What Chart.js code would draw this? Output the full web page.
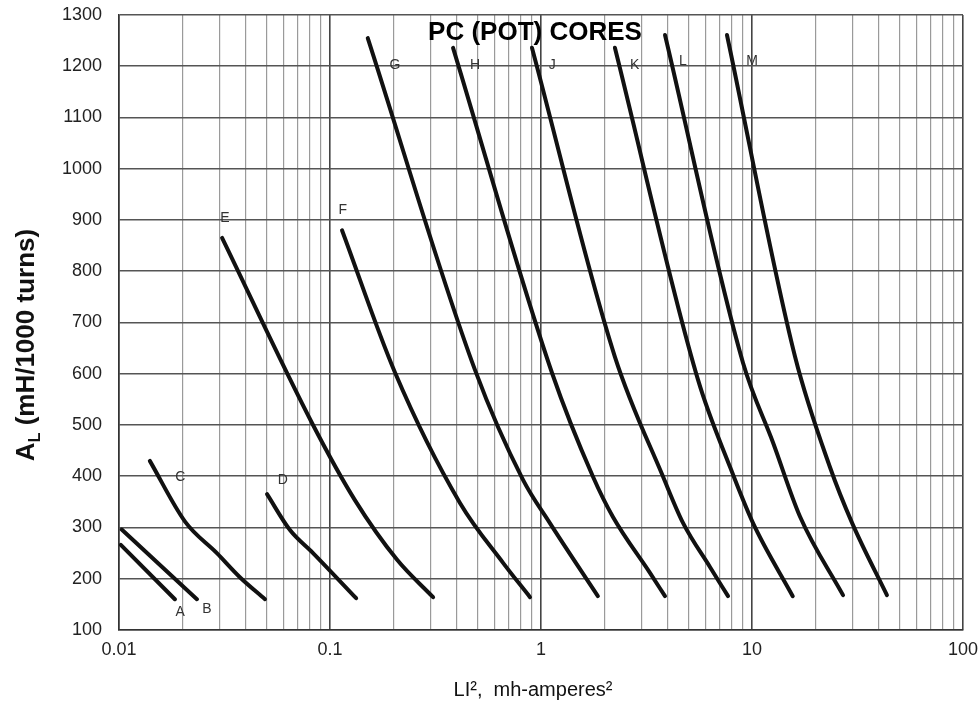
<!DOCTYPE html>
<html>
<head>
<meta charset="utf-8">
<script src="https://cdn.jsdelivr.net/npm/chart.js@4"></script>
<style>
  html, body { margin: 0; padding: 0; background: #fff; }
  #wrap { width: 980px; height: 709px; }
</style>
</head>
<body>
<div id="wrap"><canvas id="coreChart" width="980" height="709"></canvas></div>
<script>
// LI^2 (mh-amperes^2) vs A_L (mH/1000 turns), pairs
const curveA = [[0.0102, 266], [0.0184, 160]];
const curveB = [[0.0103, 296], [0.0234, 160]];
const curveC = [[0.0140, 430], [0.0206, 311], [0.0291, 250], [0.0374, 203], [0.0492, 160]];
const curveD = [[0.0503, 365], [0.0646, 295], [0.0831, 250], [0.133, 162]];
const curveE = [[0.0308, 865], [0.0831, 500], [0.131, 354], [0.208, 237], [0.308, 164]];
const curveF = [[0.114, 880], [0.203, 603], [0.413, 348], [0.661, 231], [0.887, 164]];
const curveG = [[0.151, 1255], [0.487, 607], [0.822, 393], [1.10, 309], [1.86, 166]];
const curveH = [[0.383, 1236], [1.127, 602], [1.764, 399], [2.19, 321], [3.29, 211], [3.87, 166]];
const curveJ = [[0.906, 1236], [2.24, 633], [3.79, 399], [4.71, 309], [6.32, 223], [7.70, 166]];
const curveK = [[2.24, 1236], [5.55, 588], [7.87, 418], [10.1, 309], [15.6, 166]];
const curveL = [[3.87, 1261], [9.07, 621], [12.6, 465], [16.9, 321], [27.0, 168]];
const curveM = [[7.61, 1261], [16.0, 633], [23.4, 418], [29.8, 309], [43.6, 168]];

const curves = [curveA, curveB, curveC, curveD, curveE, curveF, curveG, curveH, curveJ, curveK, curveL, curveM];

// letter tags next to the curves
const tagNames = ["A", "B", "C", "D", "E", "F", "G", "H", "J", "K", "L", "M"];
const tagX = [0.0195, 0.0261, 0.0195, 0.0598, 0.0318, 0.115, 0.203, 0.487, 1.13, 2.78, 4.71, 10.0];
const tagY = [135, 141, 399, 393, 904, 920, 1202, 1202, 1202, 1202, 1210, 1210];

// axis ticks
const xDecades = [0.01, 0.1, 1, 10, 100];
const yMin = 100;
const yMax = 1300;
const yStep = 100;

const FONT = "Arial, 'Liberation Sans', Helvetica, sans-serif";

function isDecade(v) {
  const l = Math.log10(v);
  return Math.abs(l - Math.round(l)) < 1e-6;
}

const textPlugin = {
  id: "textPlugin",
  afterDatasetsDraw(chart) {
    const { ctx, scales } = chart;
    const x = scales.x;
    const y = scales.y;
    ctx.save();
    // curve tags
    ctx.fillStyle = "#333";
    ctx.font = "14px " + FONT;
    ctx.textAlign = "center";
    ctx.textBaseline = "middle";
    tagNames.forEach((t, i) => {
      ctx.fillText(t, x.getPixelForValue(tagX[i]), y.getPixelForValue(tagY[i]));
    });
    // heading inside the plot
    ctx.fillStyle = "#000";
    ctx.font = "bold 26px " + FONT;
    ctx.fillText("PC (POT) CORES", 535, 33);
    // x axis title
    ctx.font = "20px " + FONT;
    ctx.fillStyle = "#111";
    ctx.fillText("LI\u00b2,  mh-amperes\u00b2", 533, 690);
    // y axis title with subscript
    ctx.translate(27, 345);
    ctx.rotate(-Math.PI / 2);
    const big = "bold 26px " + FONT;
    const small = "bold 16px " + FONT;
    ctx.font = big;
    const wA = ctx.measureText("A").width;
    const wRest = ctx.measureText(" (mH/1000 turns)").width;
    ctx.font = small;
    const wL = ctx.measureText("L").width;
    let sx = -(wA + wL + wRest) / 2;
    ctx.textAlign = "left";
    ctx.font = big;
    ctx.fillText("A", sx, 0);
    ctx.font = small;
    ctx.fillText("L", sx + wA, 9);
    ctx.font = big;
    ctx.fillText(" (mH/1000 turns)", sx + wA + wL, 0);
    ctx.restore();
  }
};

const ctx = document.getElementById("coreChart").getContext("2d");

const coreChart = new Chart(ctx, {
  type: "line",
  data: {
    datasets: curves.map((c, i) => ({
      label: tagNames[i],
      data: c.map(p => ({ x: p[0], y: p[1] })),
      borderColor: "#111",
      borderWidth: 4,
      borderCapStyle: "round",
      pointRadius: 0,
      cubicInterpolationMode: "monotone",
      fill: false
    }))
  },
  options: {
    responsive: false,
    animation: false,
    layout: { padding: { left: 0, right: 17, top: 15, bottom: 0 } },
    plugins: {
      legend: { display: false },
      tooltip: { enabled: false },
      title: { display: false }
    },
    scales: {
      x: {
        type: "logarithmic",
        min: 0.01,
        max: 100,
        afterBuildTicks(scale) {
          const ticks = [];
          xDecades.forEach(d => {
            if (d === 100) {
              ticks.push({ value: d });
              return;
            }
            for (let k = 1; k < 10; k++) ticks.push({ value: d * k });
          });
          scale.ticks = ticks;
        },
        afterFit(scale) {
          scale.height = 79;
          scale.paddingLeft = 0;
          scale.paddingRight = 0;
        },
        ticks: {
          autoSkip: false,
          maxRotation: 0,
          padding: 9,
          color: "#222",
          font: { size: 18, family: FONT },
          callback: v => (isDecade(v) ? String(Number(v.toPrecision(3))) : "")
        },
        grid: {
          drawTicks: false,
          color: c => (c.tick && isDecade(c.tick.value) ? "#444" : "#9a9a9a"),
          lineWidth: c => (c.tick && isDecade(c.tick.value) ? 1.6 : 1.2)
        },
        border: { color: "#333", width: 1.5 }
      },
      y: {
        min: yMin,
        max: yMax,
        afterFit(scale) {
          scale.width = 119;
          scale.paddingTop = 0;
          scale.paddingBottom = 0;
        },
        ticks: {
          stepSize: yStep,
          padding: 17,
          color: "#222",
          font: { size: 18, family: FONT },
          callback: v => String(v)
        },
        grid: {
          drawTicks: false,
          color: "#555",
          lineWidth: 1.6
        },
        border: { color: "#333", width: 1.5 }
      }
    }
  },
  plugins: [textPlugin]
});
</script>
</body>
</html>
